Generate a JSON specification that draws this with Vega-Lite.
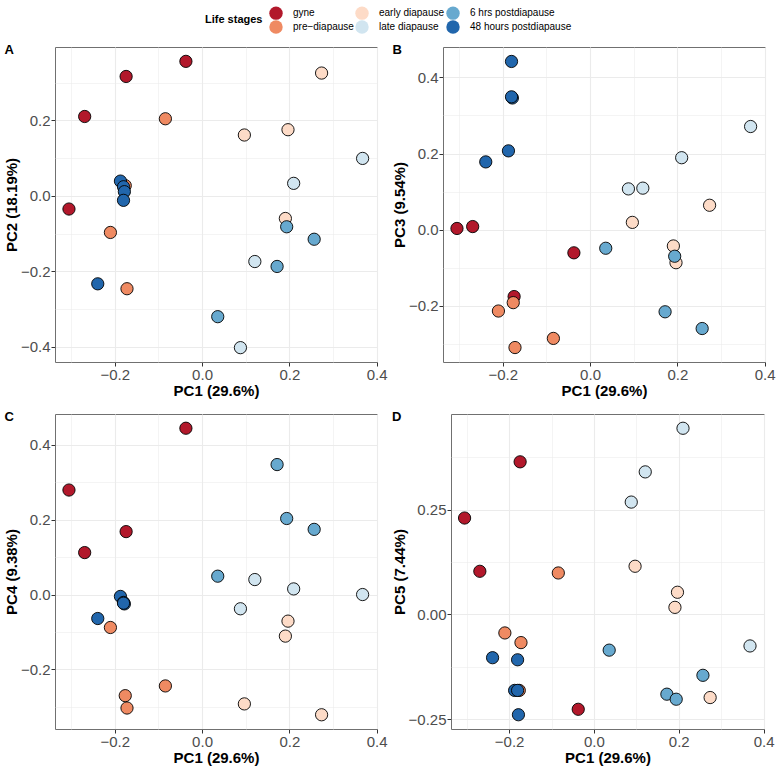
{
  "$schema": "https://vega.github.io/schema/vega-lite/v6.json",
  "background": "white",
  "padding": {"left": 3, "top": 6, "right": 8, "bottom": 4},
  "datasets": {
    "pca": [
      {"stage": "gyne", "PC1": -0.305, "PC2": -0.035, "PC3": 0.003, "PC4": 0.279, "PC5": 0.230},
      {"stage": "gyne", "PC1": -0.269, "PC2": 0.210, "PC3": 0.008, "PC4": 0.112, "PC5": 0.103},
      {"stage": "gyne", "PC1": -0.174, "PC2": 0.316, "PC3": -0.176, "PC4": 0.168, "PC5": 0.364},
      {"stage": "gyne", "PC1": -0.037, "PC2": 0.356, "PC3": -0.061, "PC4": 0.444, "PC5": -0.226},
      {"stage": "pre−diapause", "PC1": -0.210, "PC2": -0.097, "PC3": -0.214, "PC4": -0.088, "PC5": -0.044},
      {"stage": "pre−diapause", "PC1": -0.176, "PC2": 0.027, "PC3": -0.192, "PC4": -0.270, "PC5": -0.181},
      {"stage": "pre−diapause", "PC1": -0.172, "PC2": -0.246, "PC3": -0.310, "PC4": -0.303, "PC5": -0.067},
      {"stage": "pre−diapause", "PC1": -0.084, "PC2": 0.204, "PC3": -0.286, "PC4": -0.244, "PC5": 0.099},
      {"stage": "early diapause", "PC1": 0.097, "PC2": 0.161, "PC3": 0.019, "PC4": -0.292, "PC5": 0.115},
      {"stage": "early diapause", "PC1": 0.191, "PC2": -0.060, "PC3": -0.043, "PC4": -0.111, "PC5": 0.017},
      {"stage": "early diapause", "PC1": 0.197, "PC2": 0.175, "PC3": -0.087, "PC4": -0.071, "PC5": 0.053},
      {"stage": "early diapause", "PC1": 0.274, "PC2": 0.325, "PC3": 0.064, "PC4": -0.321, "PC5": -0.198},
      {"stage": "late diapause", "PC1": 0.088, "PC2": -0.402, "PC3": 0.107, "PC4": -0.038, "PC5": 0.268},
      {"stage": "late diapause", "PC1": 0.121, "PC2": -0.174, "PC3": 0.109, "PC4": 0.040, "PC5": 0.340},
      {"stage": "late diapause", "PC1": 0.210, "PC2": 0.033, "PC3": 0.189, "PC4": 0.015, "PC5": 0.444},
      {"stage": "late diapause", "PC1": 0.368, "PC2": 0.099, "PC3": 0.271, "PC4": 0.000, "PC5": -0.075},
      {"stage": "6 hrs postdiapause", "PC1": 0.036, "PC2": -0.320, "PC3": -0.049, "PC4": 0.049, "PC5": -0.085},
      {"stage": "6 hrs postdiapause", "PC1": 0.172, "PC2": -0.187, "PC3": -0.216, "PC4": 0.347, "PC5": -0.190},
      {"stage": "6 hrs postdiapause", "PC1": 0.194, "PC2": -0.082, "PC3": -0.070, "PC4": 0.203, "PC5": -0.202},
      {"stage": "6 hrs postdiapause", "PC1": 0.257, "PC2": -0.115, "PC3": -0.260, "PC4": 0.174, "PC5": -0.145},
      {"stage": "48 hours postdiapause", "PC1": -0.239, "PC2": -0.233, "PC3": 0.178, "PC4": -0.064, "PC5": -0.103},
      {"stage": "48 hours postdiapause", "PC1": -0.187, "PC2": 0.039, "PC3": 0.207, "PC4": -0.005, "PC5": -0.181},
      {"stage": "48 hours postdiapause", "PC1": -0.180, "PC2": 0.024, "PC3": 0.442, "PC4": -0.021, "PC5": -0.108},
      {"stage": "48 hours postdiapause", "PC1": -0.178, "PC2": 0.011, "PC3": 0.346, "PC4": -0.025, "PC5": -0.239},
      {"stage": "48 hours postdiapause", "PC1": -0.180, "PC2": -0.012, "PC3": 0.349, "PC4": -0.023, "PC5": -0.181}
    ]
  },
  "data": {"name": "pca"},
  "config": {
    "font": "Liberation Sans",
    "view": {"stroke": "#707070", "strokeWidth": 1},
    "axis": {
      "labelFont": "Liberation Sans", "labelFontSize": 15, "labelColor": "#4d4d4d",
      "titleFont": "Liberation Sans", "titleFontSize": 15, "titleFontWeight": "bold", "titleColor": "#000000",
      "tickColor": "#333333", "tickSize": 4, "tickWidth": 1, "domain": false,
      "gridColor": "#ebebeb", "labelPadding": 1, "titlePadding": 1,
      "labelOverlap": false, "labelFlush": false
    },
    "title": {"font": "Liberation Sans", "fontSize": 13, "fontWeight": "bold", "color": "#000000", "anchor": "start", "baseline": "alphabetic", "offset": -10}
  },
  "spacing": 11,
  "vconcat": [
    {
      "spacing": 3,
      "hconcat": [
        {
          "width": 322, "height": 315,
          "title": {"text": "A"},
          "mark": {"type": "circle", "size": 150, "opacity": 1, "stroke": "#000000", "strokeWidth": 0.9},
          "encoding": {
            "x": {"field": "PC1", "type": "quantitative", "title": "PC1 (29.6%)",
              "scale": {"domain": [-0.337, 0.401], "nice": false, "zero": false},
              "axis": {"values": [-0.3, -0.2, -0.1, 0, 0.1, 0.2, 0.3, 0.4], "format": ".1f",
                "labelExpr": "round(datum.value*10)%2 != 0 ? '' : datum.label",
                "tickOpacity": {"condition": {"test": "round(datum.value*10)%2 != 0", "value": 0}, "value": 1},
                "gridWidth": {"condition": {"test": "round(datum.value*10)%2 != 0", "value": 0.55}, "value": 1.1}}},
            "y": {"field": "PC2", "type": "quantitative", "title": "PC2 (18.19%)",
              "scale": {"domain": [-0.44, 0.394], "nice": false, "zero": false},
              "axis": {"values": [-0.4, -0.3, -0.2, -0.1, 0, 0.1, 0.2, 0.3], "format": ".1f",
                "labelExpr": "round(datum.value*10)%2 != 0 ? '' : datum.label",
                "tickOpacity": {"condition": {"test": "round(datum.value*10)%2 != 0", "value": 0}, "value": 1},
                "gridWidth": {"condition": {"test": "round(datum.value*10)%2 != 0", "value": 0.55}, "value": 1.1}}},
            "color": {"field": "stage", "type": "nominal", "title": "Life stages",
              "scale": {"domain": ["gyne", "early diapause", "6 hrs postdiapause", "pre−diapause", "late diapause", "48 hours postdiapause"],
                "range": ["#b2182b", "#fddbc7", "#67a9cf", "#ef8a62", "#d1e5f0", "#2166ac"]},
              "legend": {"orient": "none", "legendX": 150, "legendY": -41, "columns": 3, "direction": "horizontal",
                "titleOrient": "left", "titleAnchor": "middle", "titleBaseline": "middle", "titlePadding": 6,
                "titleFontSize": 11, "titleFontWeight": "bold", "titleColor": "#000000",
                "labelFontSize": 10, "labelColor": "#000000", "labelOffset": 10,
                "symbolType": "circle", "symbolSize": 180, "symbolStrokeWidth": 0, "symbolOpacity": 1,
                "columnPadding": 1, "rowPadding": 0}}
          }
        },
        {
          "width": 322, "height": 315,
          "title": {"text": "B"},
          "mark": {"type": "circle", "size": 150, "opacity": 1, "stroke": "#000000", "strokeWidth": 0.9},
          "encoding": {
            "x": {"field": "PC1", "type": "quantitative", "title": "PC1 (29.6%)",
              "scale": {"domain": [-0.337, 0.401], "nice": false, "zero": false},
              "axis": {"values": [-0.3, -0.2, -0.1, 0, 0.1, 0.2, 0.3, 0.4], "format": ".1f",
                "labelExpr": "round(datum.value*10)%2 != 0 ? '' : datum.label",
                "tickOpacity": {"condition": {"test": "round(datum.value*10)%2 != 0", "value": 0}, "value": 1},
                "gridWidth": {"condition": {"test": "round(datum.value*10)%2 != 0", "value": 0.55}, "value": 1.1}}},
            "y": {"field": "PC3", "type": "quantitative", "title": "PC3 (9.54%)",
              "scale": {"domain": [-0.348, 0.48], "nice": false, "zero": false},
              "axis": {"values": [-0.3, -0.2, -0.1, 0, 0.1, 0.2, 0.3, 0.4], "format": ".1f",
                "labelExpr": "round(datum.value*10)%2 != 0 ? '' : datum.label",
                "tickOpacity": {"condition": {"test": "round(datum.value*10)%2 != 0", "value": 0}, "value": 1},
                "gridWidth": {"condition": {"test": "round(datum.value*10)%2 != 0", "value": 0.55}, "value": 1.1}}},
            "color": {"field": "stage", "type": "nominal", "title": "Life stages",
              "scale": {"domain": ["gyne", "early diapause", "6 hrs postdiapause", "pre−diapause", "late diapause", "48 hours postdiapause"],
                "range": ["#b2182b", "#fddbc7", "#67a9cf", "#ef8a62", "#d1e5f0", "#2166ac"]},
              "legend": {"orient": "none", "legendX": 150, "legendY": -41, "columns": 3, "direction": "horizontal",
                "titleOrient": "left", "titleAnchor": "middle", "titleBaseline": "middle", "titlePadding": 6,
                "titleFontSize": 11, "titleFontWeight": "bold", "titleColor": "#000000",
                "labelFontSize": 10, "labelColor": "#000000", "labelOffset": 10,
                "symbolType": "circle", "symbolSize": 180, "symbolStrokeWidth": 0, "symbolOpacity": 1,
                "columnPadding": 1, "rowPadding": 0}}
          }
        }
      ]
    },
    {
      "spacing": 3,
      "hconcat": [
        {
          "width": 322, "height": 315,
          "title": {"text": "C"},
          "mark": {"type": "circle", "size": 150, "opacity": 1, "stroke": "#000000", "strokeWidth": 0.9},
          "encoding": {
            "x": {"field": "PC1", "type": "quantitative", "title": "PC1 (29.6%)",
              "scale": {"domain": [-0.337, 0.401], "nice": false, "zero": false},
              "axis": {"values": [-0.3, -0.2, -0.1, 0, 0.1, 0.2, 0.3, 0.4], "format": ".1f",
                "labelExpr": "round(datum.value*10)%2 != 0 ? '' : datum.label",
                "tickOpacity": {"condition": {"test": "round(datum.value*10)%2 != 0", "value": 0}, "value": 1},
                "gridWidth": {"condition": {"test": "round(datum.value*10)%2 != 0", "value": 0.55}, "value": 1.1}}},
            "y": {"field": "PC4", "type": "quantitative", "title": "PC4 (9.38%)",
              "scale": {"domain": [-0.359, 0.482], "nice": false, "zero": false},
              "axis": {"values": [-0.3, -0.2, -0.1, 0, 0.1, 0.2, 0.3, 0.4], "format": ".1f",
                "labelExpr": "round(datum.value*10)%2 != 0 ? '' : datum.label",
                "tickOpacity": {"condition": {"test": "round(datum.value*10)%2 != 0", "value": 0}, "value": 1},
                "gridWidth": {"condition": {"test": "round(datum.value*10)%2 != 0", "value": 0.55}, "value": 1.1}}},
            "color": {"field": "stage", "type": "nominal", "title": "Life stages",
              "scale": {"domain": ["gyne", "early diapause", "6 hrs postdiapause", "pre−diapause", "late diapause", "48 hours postdiapause"],
                "range": ["#b2182b", "#fddbc7", "#67a9cf", "#ef8a62", "#d1e5f0", "#2166ac"]},
              "legend": {"orient": "none", "legendX": 150, "legendY": -41, "columns": 3, "direction": "horizontal",
                "titleOrient": "left", "titleAnchor": "middle", "titleBaseline": "middle", "titlePadding": 6,
                "titleFontSize": 11, "titleFontWeight": "bold", "titleColor": "#000000",
                "labelFontSize": 10, "labelColor": "#000000", "labelOffset": 10,
                "symbolType": "circle", "symbolSize": 180, "symbolStrokeWidth": 0, "symbolOpacity": 1,
                "columnPadding": 1, "rowPadding": 0}}
          }
        },
        {
          "width": 313, "height": 315,
          "title": {"text": "D"},
          "mark": {"type": "circle", "size": 150, "opacity": 1, "stroke": "#000000", "strokeWidth": 0.9},
          "encoding": {
            "x": {"field": "PC1", "type": "quantitative", "title": "PC1 (29.6%)",
              "scale": {"domain": [-0.337, 0.401], "nice": false, "zero": false},
              "axis": {"values": [-0.3, -0.2, -0.1, 0, 0.1, 0.2, 0.3, 0.4], "format": ".1f",
                "labelExpr": "round(datum.value*10)%2 != 0 ? '' : datum.label",
                "tickOpacity": {"condition": {"test": "round(datum.value*10)%2 != 0", "value": 0}, "value": 1},
                "gridWidth": {"condition": {"test": "round(datum.value*10)%2 != 0", "value": 0.55}, "value": 1.1}}},
            "y": {"field": "PC5", "type": "quantitative", "title": "PC5 (7.44%)",
              "scale": {"domain": [-0.273, 0.478], "nice": false, "zero": false},
              "axis": {"values": [-0.25, -0.125, 0, 0.125, 0.25, 0.375], "format": ".2f",
                "labelExpr": "round(datum.value*8)%2 != 0 ? '' : datum.label",
                "tickOpacity": {"condition": {"test": "round(datum.value*8)%2 != 0", "value": 0}, "value": 1},
                "gridWidth": {"condition": {"test": "round(datum.value*8)%2 != 0", "value": 0.55}, "value": 1.1}}},
            "color": {"field": "stage", "type": "nominal", "title": "Life stages",
              "scale": {"domain": ["gyne", "early diapause", "6 hrs postdiapause", "pre−diapause", "late diapause", "48 hours postdiapause"],
                "range": ["#b2182b", "#fddbc7", "#67a9cf", "#ef8a62", "#d1e5f0", "#2166ac"]},
              "legend": {"orient": "none", "legendX": 150, "legendY": -41, "columns": 3, "direction": "horizontal",
                "titleOrient": "left", "titleAnchor": "middle", "titleBaseline": "middle", "titlePadding": 6,
                "titleFontSize": 11, "titleFontWeight": "bold", "titleColor": "#000000",
                "labelFontSize": 10, "labelColor": "#000000", "labelOffset": 10,
                "symbolType": "circle", "symbolSize": 180, "symbolStrokeWidth": 0, "symbolOpacity": 1,
                "columnPadding": 1, "rowPadding": 0}}
          }
        }
      ]
    }
  ]
}
